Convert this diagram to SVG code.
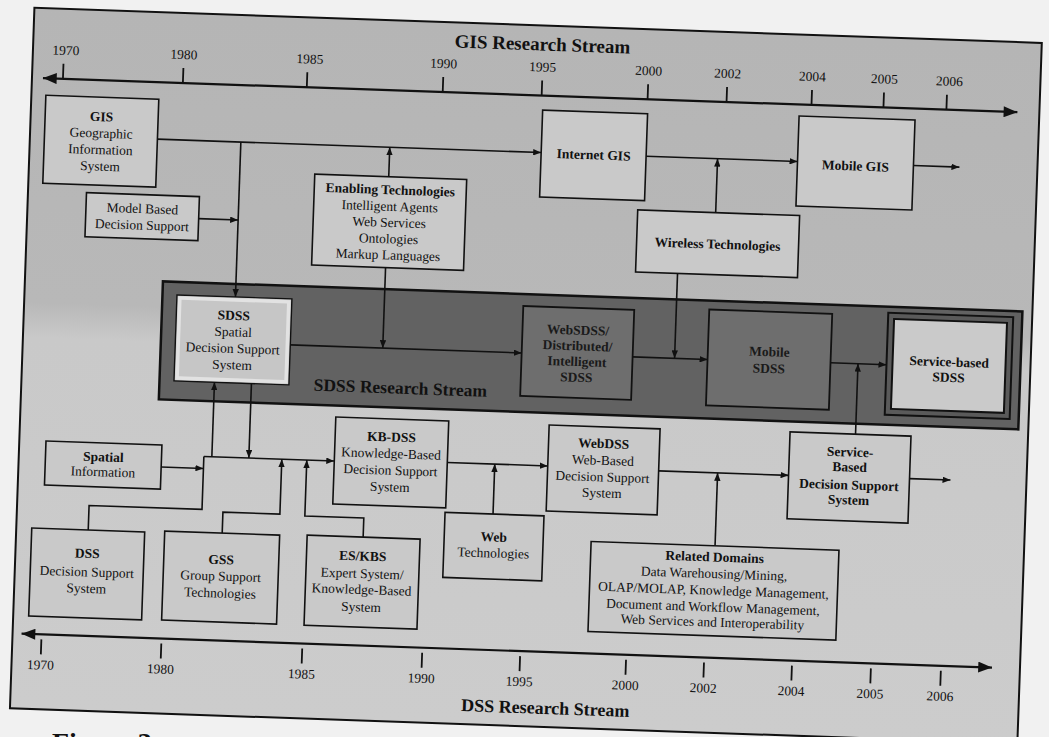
<svg xmlns="http://www.w3.org/2000/svg" width="1049" height="737" viewBox="0 0 1049 737">
<defs>
<linearGradient id="bg" x1="0" y1="25" x2="0" y2="726" gradientUnits="userSpaceOnUse">
<stop offset="0" stop-color="#b5b5b5"/>
<stop offset="0.42" stop-color="#b8b8b8"/>
<stop offset="0.47" stop-color="#c9c9c9"/>
<stop offset="1" stop-color="#cccccc"/>
</linearGradient>
<marker id="ah" viewBox="0 0 10 8" refX="10" refY="4" markerWidth="8" markerHeight="6.4" markerUnits="userSpaceOnUse" orient="auto"><path d="M0,0 L10,4 L0,8 z" fill="#111"/></marker>
<marker id="ax" viewBox="0 0 10 8" refX="10" refY="4" markerWidth="15" markerHeight="11" markerUnits="userSpaceOnUse" orient="auto-start-reverse"><path d="M0,0 L10,4 L0,8 z" fill="#111"/></marker>
<style>
.box{fill:#c9c9c9;stroke:#111;stroke-width:1.6}
.dark{fill:#6e6e6e;stroke:#111;stroke-width:1.8}
.t{font-family:"Liberation Serif","Times New Roman",serif;font-size:13.5px;fill:#111;text-anchor:middle}
.b{font-weight:bold}
.dt{fill:#1a1a1a}
.conn path{fill:none;stroke:#111;stroke-width:1.6;marker-end:url(#ah)}
.conn path.nm{marker-end:none}
.axis{stroke:#111;stroke-width:2.2;marker-start:url(#ax);marker-end:url(#ax)}
.tick{stroke:#111;stroke-width:1.8;fill:none}
.yr{font-family:"Liberation Serif","Times New Roman",serif;font-size:13.5px;fill:#111;text-anchor:middle}
.ttl{font-family:"Liberation Serif","Times New Roman",serif;font-weight:bold;fill:#111;text-anchor:middle}
</style>
</defs>
<rect width="1049" height="737" fill="#f1f1f1"/>
<g transform="rotate(2 522 372)">
<rect id="frame" x="22" y="25" width="1008" height="701" fill="url(#bg)" stroke="#111" stroke-width="2"/>

<g id="gis-axis">
<text class="ttl" x="531" y="50" font-size="19">GIS Research Stream</text>
<line class="axis" x1="33" y1="95" x2="1008" y2="95"/>
<path class="tick" d="M53,80V95M173,80V95M297,80V95M433,80V95M532,80V95M638,80V95M717,80V95M802,80V95M874,80V95M937,80V95"/>
<text class="yr" x="55" y="71">1970</text>
<text class="yr" x="173" y="71">1980</text>
<text class="yr" x="299" y="71">1985</text>
<text class="yr" x="433" y="71">1990</text>
<text class="yr" x="532" y="71">1995</text>
<text class="yr" x="638" y="71">2000</text>
<text class="yr" x="717" y="71">2002</text>
<text class="yr" x="802" y="71">2004</text>
<text class="yr" x="874" y="71">2005</text>
<text class="yr" x="939" y="71">2006</text>
</g>

<g id="dss-axis">
<line class="axis" x1="31" y1="651" x2="1002" y2="651"/>
<path class="tick" d="M51,656V671M171,656V671M312,656V671M432,656V671M530,656V671M636,656V671M714,656V671M802,656V671M881,656V671M951,656V671"/>
<text class="yr" x="51" y="686">1970</text>
<text class="yr" x="171" y="686">1980</text>
<text class="yr" x="312" y="686">1985</text>
<text class="yr" x="432" y="686">1990</text>
<text class="yr" x="530" y="686">1995</text>
<text class="yr" x="636" y="686">2000</text>
<text class="yr" x="714" y="686">2002</text>
<text class="yr" x="802" y="686">2004</text>
<text class="yr" x="881" y="686">2005</text>
<text class="yr" x="951" y="686">2006</text>
<text class="ttl" x="557" y="713" font-size="18">DSS Research Stream</text>
</g>

<g id="sdss-stream">
<rect x="160" y="294" width="860" height="118" fill="#626262" stroke="#111" stroke-width="2.5"/>
<text class="ttl" x="401" y="398" font-size="17.5" fill="#1e1e1e">SDSS Research Stream</text>
</g>

<g id="connectors" class="conn">
<path d="M149.5,152H533.5"/>
<path d="M638.5,152H790"/>
<path d="M906,152H952"/>
<path d="M233,152V307"/>
<path d="M193.5,230H233"/>
<path d="M382,181.5V152"/>
<path d="M382,272.5V353"/>
<path d="M289.5,353H521"/>
<path d="M710,206V152"/>
<path d="M674,268V353"/>
<path d="M632,353H707"/>
<path d="M830,352H886"/>
<path d="M857.5,422.5V352"/>
<path d="M252,393V467.5"/>
<path d="M215,467.5V393"/>
<path class="nm" d="M94,545V520.5H207V467.5"/>
<path d="M207,467.5H337.5"/>
<path d="M164.7,479.5H207"/>
<path d="M228,543.5V522.5H285V467.5"/>
<path d="M369,542.6V523.5H310V467.5"/>
<path d="M450.5,465H551"/>
<path d="M498,515V465"/>
<path d="M662,466H792"/>
<path d="M721,539V466"/>
<path d="M913,465H954"/>
</g>

<g id="gis">
<rect class="box" x="36.5" y="112" width="113" height="88"/>
<text class="t b" x="93" y="136">GIS</text>
<text class="t" x="93" y="152.5">Geographic</text>
<text class="t" x="93" y="169">Information</text>
<text class="t" x="93" y="185.5">System</text>
</g>

<g id="model-based">
<rect class="box" x="80.5" y="208" width="113" height="44"/>
<text class="t" x="137" y="226.5">Model Based</text>
<text class="t" x="137" y="243">Decision Support</text>
</g>

<g id="enabling">
<rect class="box" x="308" y="181.5" width="152" height="91"/>
<text class="t b" x="384" y="199">Enabling Technologies</text>
<text class="t" x="384" y="215.5">Intelligent Agents</text>
<text class="t" x="384" y="231.7">Web Services</text>
<text class="t" x="384" y="248">Ontologies</text>
<text class="t" x="384" y="264.2">Markup Languages</text>
</g>

<g id="internet-gis">
<rect class="box" x="533.5" y="109.5" width="105" height="87"/>
<text class="t b" x="586" y="157">Internet GIS</text>
</g>

<g id="mobile-gis">
<rect class="box" x="790" y="106.5" width="116" height="90"/>
<text class="t b" x="848" y="159">Mobile GIS</text>
</g>

<g id="wireless">
<rect class="box" x="632" y="206" width="162" height="62"/>
<text class="t b" x="713" y="242">Wireless Technologies</text>
</g>

<g id="sdss">
<rect x="174.5" y="307" width="115" height="86" fill="#c6c6c6" stroke="#111" stroke-width="1.4"/>
<rect x="177.5" y="310" width="109" height="80" fill="none" stroke="#e2e2e2" stroke-width="3.5"/>
<text class="t b" x="232" y="330">SDSS</text>
<text class="t" x="232" y="346.5">Spatial</text>
<text class="t" x="232" y="363">Decision Support</text>
<text class="t" x="232" y="379.5">System</text>
</g>

<g id="websdss">
<rect class="dark" x="521" y="306" width="111" height="90"/>
<text class="t b dt" x="576.5" y="332.7">WebSDSS/</text>
<text class="t b dt" x="576.5" y="348.4">Distributed/</text>
<text class="t b dt" x="576.5" y="364.1">Intelligent</text>
<text class="t b dt" x="576.5" y="379.8">SDSS</text>
</g>

<g id="mobile-sdss">
<rect class="dark" x="707" y="303" width="123" height="96"/>
<text class="t b dt" x="768.5" y="347.7">Mobile</text>
<text class="t b dt" x="768.5" y="364.4">SDSS</text>
</g>

<g id="service-sdss">
<rect x="886" y="300" width="125" height="102" fill="#5a5a5a" stroke="#111" stroke-width="2"/>
<rect x="892" y="306" width="113" height="90" fill="#cacaca" stroke="#111" stroke-width="2"/>
<text class="t b" x="948.5" y="351.5">Service-based</text>
<text class="t b" x="948.5" y="367">SDSS</text>
</g>

<g id="spatial-info">
<rect class="box" x="48.7" y="457.6" width="116" height="44"/>
<text class="t b" x="106.7" y="476">Spatial</text>
<text class="t" x="106.7" y="491">Information</text>
</g>

<g id="kb-dss">
<rect class="box" x="337.5" y="423.5" width="113" height="87"/>
<text class="t b" x="394" y="446">KB-DSS</text>
<text class="t" x="394" y="462.6">Knowledge-Based</text>
<text class="t" x="394" y="479.3">Decision Support</text>
<text class="t" x="394" y="496">System</text>
</g>

<g id="web-tech">
<rect class="box" x="450" y="515" width="99" height="65"/>
<text class="t b" x="499.6" y="542.4">Web</text>
<text class="t" x="499.6" y="558.4">Technologies</text>
</g>

<g id="webdss">
<rect class="box" x="551" y="424" width="111" height="86"/>
<text class="t b" x="606" y="445.2">WebDSS</text>
<text class="t" x="606" y="462">Web-Based</text>
<text class="t" x="606" y="478.6">Decision Support</text>
<text class="t" x="606" y="494.6">System</text>
</g>

<g id="service-dss">
<rect class="box" x="792" y="422.5" width="121" height="87"/>
<text class="t b" x="852.7" y="445">Service-</text>
<text class="t b" x="852.7" y="460">Based</text>
<text class="t b" x="852.7" y="478">Decision Support</text>
<text class="t b" x="852.7" y="493">System</text>
</g>

<g id="dss">
<rect class="box" x="37.5" y="545" width="113" height="88"/>
<text class="t b" x="94" y="573">DSS</text>
<text class="t" x="94" y="591.5">Decision Support</text>
<text class="t" x="94" y="608">System</text>
</g>

<g id="gss">
<rect class="box" x="170.5" y="543.5" width="115" height="89"/>
<text class="t b" x="228" y="574.5">GSS</text>
<text class="t" x="228" y="591">Group Support</text>
<text class="t" x="228" y="608">Technologies</text>
</g>

<g id="es-kbs">
<rect class="box" x="313" y="542.6" width="113" height="90"/>
<text class="t b" x="369.3" y="566">ES/KBS</text>
<text class="t" x="369.3" y="583.5">Expert System/</text>
<text class="t" x="369.3" y="599.5">Knowledge-Based</text>
<text class="t" x="369.3" y="617">System</text>
</g>

<g id="related">
<rect class="box" x="597" y="539" width="248" height="90"/>
<text class="t b" x="721" y="554.7" font-size="14">Related Domains</text>
<text class="t" x="721" y="571.3" font-size="14">Data Warehousing/Mining,</text>
<text class="t" x="721" y="588" font-size="14">OLAP/MOLAP, Knowledge Management,</text>
<text class="t" x="721" y="604.7" font-size="14">Document and Workflow Management,</text>
<text class="t" x="721" y="619.7" font-size="14">Web Services and Interoperability</text>
</g>
</g>
<text x="52" y="752" font-family="'Liberation Serif','Times New Roman',serif" font-size="28" font-weight="bold" fill="#111">Figure 3:</text>
</svg>
